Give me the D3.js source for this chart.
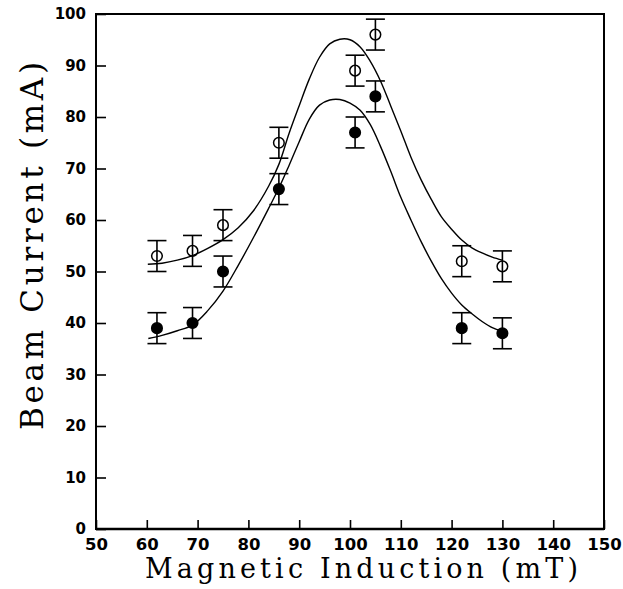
<!DOCTYPE html>
<html>
<head>
<meta charset="utf-8">
<script src="https://cdn.jsdelivr.net/npm/d3@7"></script>
<style>
  html, body { margin: 0; padding: 0; background: #fff; }
  svg { display: block; }
</style>
</head>
<body>
<svg id="chart" width="623" height="589"></svg>
<script>
// ---- Data ----
const xTicks = [50, 60, 70, 80, 90, 100, 110, 120, 130, 140, 150];
const yTicks = [0, 10, 20, 30, 40, 50, 60, 70, 80, 90, 100];

const fieldValues = [62, 69, 75, 86, 101, 105, 122, 130];       // mT
const openValues  = [53, 54, 59, 75, 89, 96, 52, 51];           // mA (open circles)
const openErrors  = [3, 3, 3, 3, 3, 3, 3, 3];
const filledValues = [39, 40, 50, 66, 77, 84, 39, 38];          // mA (filled circles)
const filledErrors = [3, 3, 3, 3, 3, 3, 3, 3];

// fitted curves, points
const upperCurveX = [60.2, 63, 66, 69, 72, 75, 78, 81, 84, 86, 88, 90, 92, 94, 96, 98, 100, 102, 104, 106, 108, 110, 112, 114, 116, 118, 120, 122, 124, 126, 128, 130];
const upperCurveY = [51.4, 51.6, 52.2, 53.1, 54.5, 56.2, 58.5, 61.8, 66.6, 70.8, 76.8, 82.2, 87.4, 91.6, 94.2, 95.1, 95.0, 93.6, 90.8, 87.0, 82.2, 77.3, 72.2, 67.8, 64.0, 60.6, 58.2, 56.1, 54.6, 53.6, 52.8, 52.2];
const lowerCurveX = [60.3, 63, 66, 69, 72, 75, 78, 81, 84, 86, 88, 90, 92, 94, 96, 98, 100, 102, 104, 106, 108, 110, 112, 114, 116, 118, 120, 122, 124, 126, 128, 130];
const lowerCurveY = [37.0, 37.6, 38.5, 39.6, 42.4, 46.2, 51.2, 56.6, 62.3, 66.2, 70.6, 75.2, 79.6, 82.3, 83.3, 83.4, 82.7, 81.3, 78.5, 74.3, 69.5, 64.4, 60.0, 55.8, 52.0, 48.6, 45.8, 43.5, 41.8, 40.3, 39.1, 38.4];

const xTitle = "Magnetic Induction (mT)";
const yTitle = "Beam Current (mA)";

// ---- Layout ----
const svg = d3.select("#chart");
const mLeft = 96, mRight = 604, mTop = 14, mBottom = 529;

const x = d3.scaleLinear().domain([50, 150]).range([mLeft, mRight]);
const y = d3.scaleLinear().domain([0, 100]).range([mBottom, mTop]);

svg.append("rect").attr("width", 623).attr("height", 589).attr("fill", "#fff");

// axes (inward ticks)
const yAxis = d3.axisLeft(y).tickValues(yTicks).tickSizeInner(-10).tickSizeOuter(0).tickPadding(10);
const xAxis = d3.axisBottom(x).tickValues(xTicks).tickSizeInner(-9).tickSizeOuter(0).tickPadding(9);

const gy = svg.append("g").attr("transform", `translate(${mLeft},0)`).call(yAxis);
gy.select(".domain").remove();
gy.selectAll(".tick line").attr("stroke", "#000").attr("stroke-width", 1.6);
gy.selectAll(".tick text")
  .attr("font-family", "DejaVu Sans, sans-serif")
  .attr("font-weight", "bold")
  .attr("font-size", 15)
  .attr("fill", "#000");

const gx = svg.append("g").attr("transform", `translate(0,${mBottom})`).call(xAxis);
gx.select(".domain").remove();
gx.selectAll(".tick line").attr("stroke", "#000").attr("stroke-width", 1.6);
gx.selectAll(".tick text")
  .attr("font-family", "DejaVu Sans, sans-serif")
  .attr("font-weight", "bold")
  .attr("font-size", 16.5)
  .attr("fill", "#000");

// frame
svg.append("rect")
  .attr("x", mLeft).attr("y", mTop)
  .attr("width", mRight - mLeft).attr("height", mBottom - mTop)
  .attr("fill", "none").attr("stroke", "#000").attr("stroke-width", 2);
svg.append("line")
  .attr("x1", mLeft).attr("x2", mRight).attr("y1", mBottom).attr("y2", mBottom)
  .attr("stroke", "#000").attr("stroke-width", 2.6);

// curves
const line = d3.line().x(d => x(d[0])).y(d => y(d[1])).curve(d3.curveCatmullRom);
svg.append("path")
  .datum(d3.zip(upperCurveX, upperCurveY))
  .attr("d", line).attr("fill", "none").attr("stroke", "#000").attr("stroke-width", 1.4);
svg.append("path")
  .datum(d3.zip(lowerCurveX, lowerCurveY))
  .attr("d", line).attr("fill", "none").attr("stroke", "#000").attr("stroke-width", 1.4);

// error bars + markers
function drawSeries(vals, errs, filled) {
  const g = svg.append("g");
  const data = fieldValues.map((f, i) => ({ f, v: vals[i], e: errs[i] }));
  const capW = 9.5;
  const pts = g.selectAll("g.pt").data(data).join("g").attr("class", "pt");
  pts.append("circle")
    .attr("cx", d => x(d.f)).attr("cy", d => y(d.v)).attr("r", 5.3)
    .attr("fill", filled ? "#000" : "none")
    .attr("stroke", "#000").attr("stroke-width", 1.5);
  pts.append("line")
    .attr("x1", d => x(d.f)).attr("x2", d => x(d.f))
    .attr("y1", d => y(d.v + d.e)).attr("y2", d => y(d.v - d.e))
    .attr("stroke", "#000").attr("stroke-width", 1.6);
  pts.append("line")
    .attr("x1", d => x(d.f) - capW).attr("x2", d => x(d.f) + capW)
    .attr("y1", d => y(d.v + d.e)).attr("y2", d => y(d.v + d.e))
    .attr("stroke", "#000").attr("stroke-width", 1.6);
  pts.append("line")
    .attr("x1", d => x(d.f) - capW).attr("x2", d => x(d.f) + capW)
    .attr("y1", d => y(d.v - d.e)).attr("y2", d => y(d.v - d.e))
    .attr("stroke", "#000").attr("stroke-width", 1.6);
}
drawSeries(openValues, openErrors, false);
drawSeries(filledValues, filledErrors, true);

// titles
svg.append("text")
  .attr("x", 145).attr("y", 578)
  .attr("font-family", "DejaVu Serif, serif")
  .attr("font-size", 27)
  .attr("textLength", 433).attr("lengthAdjust", "spacing")
  .attr("fill", "#000")
  .text(xTitle);

svg.append("text")
  .attr("transform", "translate(43,430) rotate(-90)")
  .attr("x", 0).attr("y", 0)
  .attr("font-family", "DejaVu Serif, serif")
  .attr("font-size", 31)
  .attr("textLength", 368).attr("lengthAdjust", "spacing")
  .attr("fill", "#000")
  .text(yTitle);
</script>
</body>
</html>
